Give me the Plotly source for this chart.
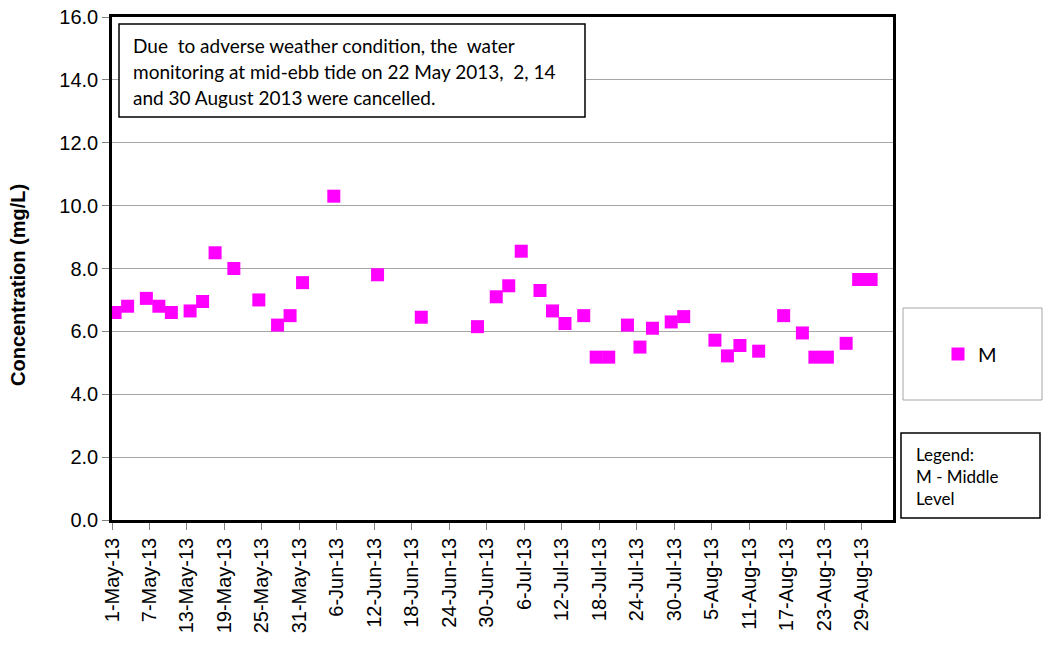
import pandas as pd
import plotly.graph_objects as go

# ---- data ----
dates = ["2013-05-01", "2013-05-03", "2013-05-06", "2013-05-08", "2013-05-10",
         "2013-05-13", "2013-05-15", "2013-05-17", "2013-05-20", "2013-05-24",
         "2013-05-27", "2013-05-29", "2013-05-31", "2013-06-05", "2013-06-12",
         "2013-06-19", "2013-06-28", "2013-07-01", "2013-07-03", "2013-07-05",
         "2013-07-08", "2013-07-10", "2013-07-12", "2013-07-15", "2013-07-17",
         "2013-07-19", "2013-07-22", "2013-07-24", "2013-07-26", "2013-07-29",
         "2013-07-31", "2013-08-05", "2013-08-07", "2013-08-09", "2013-08-12",
         "2013-08-16", "2013-08-19", "2013-08-21", "2013-08-23", "2013-08-26",
         "2013-08-28", "2013-08-30"]
m_values = [6.6, 6.8, 7.05, 6.8, 6.6,
            6.65, 6.95, 8.5, 8.0, 7.0,
            6.2, 6.5, 7.55, 10.3, 7.8,
            6.45, 6.15, 7.1, 7.45, 8.55,
            7.3, 6.65, 6.25, 6.5, 5.18,
            5.18, 6.2, 5.5, 6.1, 6.3,
            6.47, 5.72, 5.22, 5.55, 5.37,
            6.5, 5.95, 5.18, 5.18, 5.62,
            7.65, 7.65]
tick_dates = ["2013-05-01", "2013-05-07", "2013-05-13", "2013-05-19", "2013-05-25",
              "2013-05-31", "2013-06-06", "2013-06-12", "2013-06-18", "2013-06-24",
              "2013-06-30", "2013-07-06", "2013-07-12", "2013-07-18", "2013-07-24",
              "2013-07-30", "2013-08-05", "2013-08-11", "2013-08-17", "2013-08-23",
              "2013-08-29"]
y_ticks = [0, 2, 4, 6, 8, 10, 12, 14, 16]
note_lines = ["Due  to adverse weather condition, the  water",
              "monitoring at mid-ebb tide on 22 May 2013,  2, 14",
              "and 30 August 2013 were cancelled."]
legend_lines = ["Legend:", "M - Middle", "Level"]

# ---- layout geometry (screen pixels) ----
W, H = 1045, 645
L, R, T, B = 112, 893, 17, 520        # plot area
half_day = pd.Timedelta(hours=12)

def px(x):
    return (x - L) / (R - L)

def py(y):
    return (B - y) / (B - T)

tickvals = [pd.Timestamp(d) - half_day for d in tick_dates]
ticktext = [f"{pd.Timestamp(d).day}-{pd.Timestamp(d):%b-%y}" for d in tick_dates]

AX_FONT = dict(family="Liberation Sans, Arial", size=20, color="black")

fig = go.Figure()
fig.add_trace(go.Scatter(
    x=pd.to_datetime(dates), y=m_values, mode="markers", name="M",
    marker=dict(symbol="square", size=13, color="#FF00FF", line=dict(width=0)),
))

fig.update_layout(
    width=W, height=H, autosize=False,
    margin=dict(l=L, r=W - R, t=T, b=H - B, pad=0, autoexpand=False),
    plot_bgcolor="white", paper_bgcolor="white",
    font=AX_FONT,
    showlegend=True,
    legend=dict(xref="container", yref="container",
                x=938 / W, y=1 - 354 / H,
                xanchor="left", yanchor="middle",
                bgcolor="rgba(0,0,0,0)", borderwidth=0,
                font=dict(family="Lato", size=20, color="black"),
                itemwidth=30),
)
fig.update_xaxes(
    type="date", automargin=False, ticklabeloverflow="allow",
    range=[pd.Timestamp("2013-05-01") - half_day, pd.Timestamp("2013-09-03") - half_day],
    tickmode="array", tickvals=tickvals, ticktext=ticktext,
    tickangle=-90, ticks="outside", ticklen=7, tickcolor="#808080", tickwidth=1,
    showgrid=False, showline=True, linecolor="black", linewidth=2.5, mirror=True,
    tickfont=AX_FONT, zeroline=False,
)
fig.update_yaxes(
    range=[0, 16], automargin=False, ticklabeloverflow="allow",
    tickmode="array", tickvals=y_ticks,
    ticktext=[f"{v:.1f}" for v in y_ticks],
    ticks="outside", ticklen=7, tickcolor="#808080", tickwidth=1,
    showgrid=True, gridcolor="#A6A6A6", gridwidth=1,
    showline=True, linecolor="black", linewidth=2.5, mirror=True,
    tickfont=AX_FONT, zeroline=False,
)

shapes = [
    # note box
    dict(type="rect", xref="paper", yref="paper",
         x0=px(119), x1=px(585), y0=py(117), y1=py(24),
         line=dict(color="black", width=1.5), fillcolor="white", layer="above"),
    # legend box
    dict(type="rect", xref="paper", yref="paper",
         x0=px(903), x1=px(1042), y0=py(400), y1=py(308),
         line=dict(color="#A6A6A6", width=1), fillcolor="rgba(0,0,0,0)"),
    # legend description box
    dict(type="rect", xref="paper", yref="paper",
         x0=px(901), x1=px(1040), y0=py(518), y1=py(433),
         line=dict(color="black", width=1.5), fillcolor="rgba(0,0,0,0)"),
]
fig.update_layout(shapes=shapes)

annotations = [
    dict(text="<b>Concentration (mg/L)</b>", xref="paper", yref="paper",
         x=px(18), y=py(285), textangle=-90, showarrow=False,
         xanchor="center", yanchor="middle",
         font=dict(family="Liberation Sans, Arial", size=20, color="black")),
]
for i, line in enumerate(note_lines):
    annotations.append(dict(text=line, xref="paper", yref="paper",
                            x=px(131), y=py(46 + 25.5 * i), showarrow=False,
                            xanchor="left", yanchor="middle", align="left",
                            font=dict(family="Lato", size=19, color="black")))
for i, line in enumerate(legend_lines):
    annotations.append(dict(text=line, xref="paper", yref="paper",
                            x=px(914), y=py(454 + 22 * i), showarrow=False,
                            xanchor="left", yanchor="middle", align="left",
                            font=dict(family="Lato", size=17, color="black")))
fig.update_layout(annotations=annotations)

# remove the default 8px page margin so the figure fills the window exactly
fig.write_html("out.html",
               config={"displayModeBar": False},
               post_script="document.body.style.margin='0';document.body.style.overflow='hidden';")
